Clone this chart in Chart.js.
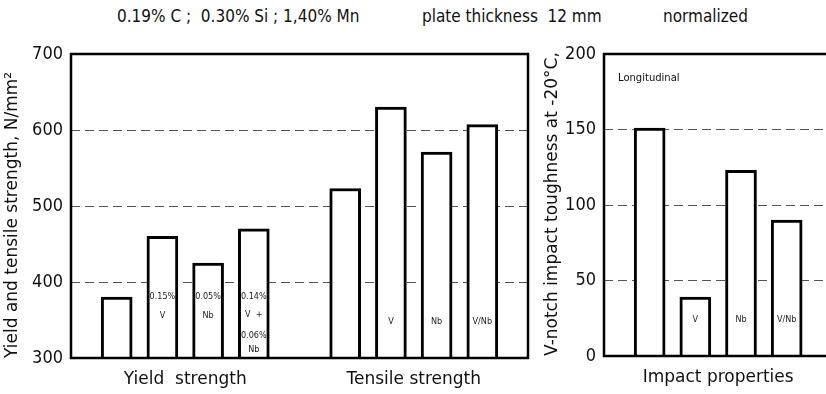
<!DOCTYPE html>
<html><head><meta charset="utf-8">
<script src="https://cdn.jsdelivr.net/npm/chart.js@4/dist/chart.umd.min.js"></script>
<style>
html,body{margin:0;padding:0;background:#fff;overflow:hidden;width:826px;height:394px;}
#wrap{position:relative;width:826px;height:394px;overflow:hidden;background:#fff;}
.hdr{position:absolute;top:5px;font-family:'DejaVu Sans',sans-serif;font-stretch:condensed;font-size:17px;color:#111;white-space:pre;line-height:22px;}
#c1{position:absolute;left:0;top:0;}
#c2{position:absolute;left:540px;top:0;}
</style></head><body>
<div id="wrap">
<span class="hdr" style="left:117px">0.19% C ;  0.30% Si ; 1,40% Mn</span>
<span class="hdr" style="left:422px">plate thickness  12 mm</span>
<span class="hdr" style="left:663px">normalized</span>
<canvas id="c1" width="540" height="394"></canvas>
<canvas id="c2" width="340" height="394"></canvas>
</div>
<script>
// ---- data ----
const strengthGroups = ['Yield  strength', 'Tensile strength'];
const yieldValues = [380, 460, 425, 470];
const tensileValues = [523, 630, 571, 607];
const strengthTicks = [300, 400, 500, 600, 700];
const yieldNotes = [[], ['0.15%', 'V'], ['0.05%', 'Nb'], ['0.14%', 'V  +', '0.06%', 'Nb']];
const tensileNotes = [[], ['V'], ['Nb'], ['V/Nb']];

const impactGroups = ['Impact properties'];
const impactValues = [151, 39, 123, 90];
const impactTicks = [0, 50, 100, 150, 200];
const impactNotes = [[], ['V'], ['Nb'], ['V/Nb']];
const impactCaption = 'Longitudinal';

const strengthTitle = 'Yield and tensile strength, N/mm\u00B2';
const impactTitle = 'V-notch impact toughness at -20\u00B0C,';

// ---- helpers ----
const FONT = "'DejaVu Sans', sans-serif";
const strengthPoints = [
  ...yieldValues.map((v, i) => ({x: i, y: v})),
  ...tensileValues.map((v, i) => ({x: yieldValues.length + 1 + i, y: v}))
];
const strengthNotes = [...yieldNotes, ...tensileNotes];
const strengthCenters = [(yieldValues.length - 1) / 2, yieldValues.length + 1 + (tensileValues.length - 1) / 2];
const impactPoints = impactValues.map((v, i) => ({x: i, y: v}));
const impactCenters = [(impactValues.length - 1) / 2];

const noteOffsets = {1: [36], 2: [61, 42], 4: [61, 43, 22, 8]};

function makePlugins(notes, caption) {
  return [{
    id: 'condense',
    beforeDraw(chart) { chart.ctx.fontStretch = 'condensed'; }
  }, {
    id: 'frameAndNotes',
    afterDatasetsDraw(chart) {
      const {ctx, chartArea: a} = chart;
      ctx.save();
      ctx.strokeStyle = '#000';
      ctx.lineWidth = 2.5;
      ctx.strokeRect(a.left, a.top, a.right - a.left, a.bottom - a.top);
      ctx.fillStyle = '#222';
      ctx.font = "9px " + FONT;
      ctx.fontStretch = 'condensed';
      ctx.textAlign = 'center';
      ctx.textBaseline = 'middle';
      const meta = chart.getDatasetMeta(0);
      meta.data.forEach((bar, i) => {
        const lines = notes[i] || [];
        const offs = noteOffsets[lines.length] || [];
        lines.forEach((t, k) => ctx.fillText(t, bar.x, a.bottom - offs[k]));
      });
      if (caption) {
        ctx.font = "10px " + FONT;
        ctx.textAlign = 'left';
        ctx.fillStyle = '#111';
        ctx.fillText(caption, a.left + 14, a.top + 24);
      }
      ctx.restore();
    }
  }];
}

function makeChart(id, points, ticksArr, centers, groups, notes, title, axisWidth, xMax, padRight, bottomH, caption) {
  return new Chart(document.getElementById(id), {
    type: 'bar',
    data: {
      datasets: [{
        data: points,
        backgroundColor: '#fff',
        borderColor: '#000',
        borderWidth: 3,
        barThickness: 31,
        base: ticksArr[0],
        borderSkipped: 'start'
      }]
    },
    options: {
      responsive: false,
      animation: false,
      layout: {padding: {top: 54, right: padRight, left: 0, bottom: 0}},
      plugins: {legend: {display: false}, tooltip: {enabled: false}},
      scales: {
        x: {
          type: 'linear',
          offset: false,
          min: -1,
          max: xMax,
          grid: {display: false, drawTicks: false},
          border: {display: false},
          afterBuildTicks(scale) { scale.ticks = centers.map(v => ({value: v})); },
          afterFit(scale) { scale.height = bottomH; },
          ticks: {
            autoSkip: false, maxRotation: 0, padding: 11,
            color: '#111', font: {family: FONT, size: 17},
            callback: (v, i) => groups[i]
          }
        },
        y: {
          min: ticksArr[0],
          max: ticksArr[ticksArr.length - 1],
          afterBuildTicks(scale) { scale.ticks = ticksArr.map(v => ({value: v})); },
          afterFit(scale) { scale.width = axisWidth; },
          grid: {color: '#555', lineWidth: 1, drawTicks: false},
          border: {display: false, dash: [9, 5]},
          ticks: {padding: 8, color: '#111', font: {family: FONT, size: 18}},
          title: {display: true, text: title, align: 'start', color: '#111', font: {family: FONT, size: 17}, padding: {top: 2, bottom: 0}}
        }
      }
    },
    plugins: makePlugins(notes, caption)
  });
}

makeChart('c1', strengthPoints, strengthTicks, strengthCenters, strengthGroups, strengthNotes, strengthTitle, 71, 9, 12, 36, null);
makeChart('c2', impactPoints, impactTicks, impactCenters, impactGroups, impactNotes, impactTitle, 64, 5, 2, 38, impactCaption);
</script>
</body></html>
